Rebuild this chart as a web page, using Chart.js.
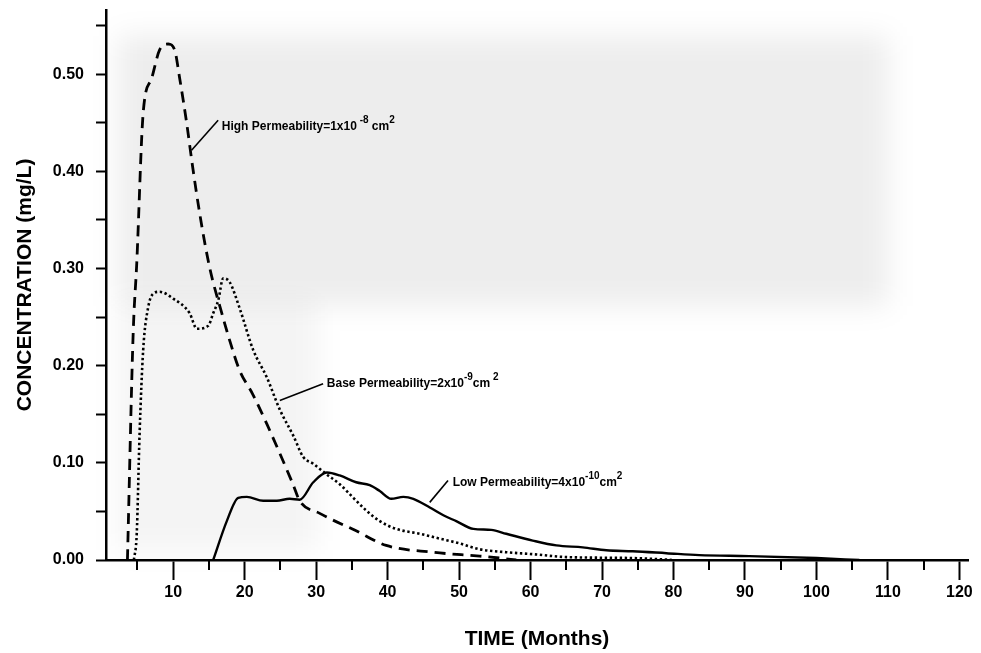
<!DOCTYPE html>
<html><head><meta charset="utf-8">
<script src="https://cdn.jsdelivr.net/npm/chart.js@4.4.1/dist/chart.umd.min.js"></script>
<style>html,body{margin:0;padding:0;background:#fff;overflow:hidden}#wrap{width:981px;height:653px;position:relative}</style>
</head><body><div id="wrap"><canvas id="c" width="981" height="653"></canvas></div>
<script>
// ---- data ----
const highMonths = [3.6, 4.4, 4.9, 5.8, 7.0, 8.1, 9.3, 10.2, 10.9, 11.9, 12.6, 13.7, 15.1, 16.8, 17.9, 19.3, 21.1, 23.1, 24.9, 26.7, 27.7, 30.5, 35.6, 39.8, 46.3, 52.9, 55.7, 58];
const highConc   = [0, 0.233, 0.305, 0.460, 0.496, 0.525, 0.531, 0.525, 0.496, 0.449, 0.411, 0.357, 0.301, 0.254, 0.226, 0.195, 0.171, 0.140, 0.110, 0.079, 0.061, 0.048, 0.030, 0.015, 0.008, 0.004, 0.002, 0];

const baseMonths = [4.5, 4.9, 5.3, 5.8, 6.5, 7.2, 8.1, 10.0, 12.3, 13.3, 14.9, 15.6, 16.3, 17.0, 17.9, 19.3, 21.2, 23.1, 24.9, 26.8, 28.2, 29.6, 31.5, 33.3, 35.2, 37.0, 38.9, 41.2, 44.5, 47.3, 50.1, 52.9, 56.6, 60.3, 65, 74.3, 80];
const baseConc   = [0, 0.027, 0.130, 0.216, 0.260, 0.274, 0.276, 0.269, 0.254, 0.238, 0.241, 0.254, 0.267, 0.290, 0.286, 0.259, 0.216, 0.188, 0.155, 0.128, 0.106, 0.099, 0.088, 0.078, 0.064, 0.051, 0.040, 0.032, 0.027, 0.022, 0.017, 0.011, 0.008, 0.006, 0.003, 0.002, 0];

const lowMonths = [15.6, 17.5, 19.1, 20.3, 22.6, 24.5, 26.3, 27.7, 29.6, 31.5, 33.3, 35.6, 37.5, 38.9, 40.5, 42.2, 43.6, 45.9, 47.8, 49.6, 52.0, 54.5, 56.6, 60.3, 63.6, 67.3, 70.6, 74.3, 79.0, 83.6, 90.6, 100, 106];
const lowConc   = [0, 0.040, 0.064, 0.065, 0.061, 0.061, 0.063, 0.062, 0.080, 0.090, 0.087, 0.080, 0.077, 0.071, 0.063, 0.065, 0.063, 0.054, 0.046, 0.040, 0.032, 0.031, 0.027, 0.020, 0.015, 0.013, 0.010, 0.009, 0.007, 0.005, 0.004, 0.002, 0];

const xTickValues = [5, 10, 15, 20, 25, 30, 35, 40, 45, 50, 55, 60, 65, 70, 75, 80, 85, 90, 95, 100, 105, 110, 115, 120];
const yTickValues = [0, 0.05, 0.10, 0.15, 0.20, 0.25, 0.30, 0.35, 0.40, 0.45, 0.50, 0.55];

const seriesLabels = ['High Permeability', 'Base Permeability', 'Low Permeability'];
const labelParts = [
  [['High Permeability=1x10', 0], [' -8', 1], [' cm', 0], ['2', 1]],
  [['Base Permeability=2x10', 0], ['-9', 1], ['cm', 0], [' 2', 1]],
  [['Low Permeability=4x10', 0], ['-10', 1], ['cm', 0], ['2', 1]]
];
// leader line: [fromMonth, fromConc, toMonth, toConc, textMonth, textConc]
const labelAnchors = [
  [12.57, 0.4216, 16.29, 0.4525, 16.8, 0.4464],
  [24.92, 0.1641, 30.97, 0.1813, 31.5, 0.1816],
  [45.89, 0.0593, 48.45, 0.0817, 49.1, 0.0796]
];

const toPts = (xs, ys) => xs.map((x, i) => ({x: x, y: ys[i]}));
const FONT = "'Liberation Sans', Arial, Helvetica, sans-serif";

const bgPlugin = {
  id: 'bg',
  beforeDatasetsDraw(chart) {
    const c = chart.ctx;
    c.save();
    c.filter = 'blur(14px)';
    c.fillStyle = 'rgba(0,0,0,0.07)';
    c.fillRect(118, 36, 770, 270);
    c.fillStyle = 'rgba(0,0,0,0.045)';
    c.fillRect(118, 300, 200, 250);
    c.restore();
  }
};

const extrasPlugin = {
  id: 'extras',
  afterDraw(chart) {
    const c = chart.ctx;
    const xs = chart.scales.x, ys = chart.scales.y;
    c.save();
    // minor x ticks
    c.strokeStyle = '#000';
    c.lineWidth = 2;
    xTickValues.forEach(v => {
      if (v % 10 !== 0) {
        const px = Math.round(xs.getPixelForValue(v));
        c.beginPath();
        c.moveTo(px, ys.bottom);
        c.lineTo(px, ys.bottom + 10);
        c.stroke();
      }
    });
    // annotations
    labelAnchors.forEach((a, i) => {
      c.lineWidth = 1.6;
      c.beginPath();
      c.moveTo(xs.getPixelForValue(a[0]), ys.getPixelForValue(a[1]));
      c.lineTo(xs.getPixelForValue(a[2]), ys.getPixelForValue(a[3]));
      c.stroke();
      let px = xs.getPixelForValue(a[4]);
      const py = ys.getPixelForValue(a[5]);
      c.fillStyle = '#000';
      c.textBaseline = 'middle';
      c.textAlign = 'left';
      labelParts[i].forEach(p => {
        if (p[1]) {
          c.font = 'bold 10px ' + FONT;
          c.fillText(p[0], px, py - 6);
        } else {
          c.font = 'bold 12px ' + FONT;
          c.fillText(p[0], px, py);
        }
        px += c.measureText(p[0]).width;
      });
    });
    c.restore();
  }
};

new Chart(document.getElementById('c'), {
  type: 'line',
  data: {
    datasets: [
      { label: seriesLabels[0], data: toPts(highMonths, highConc), borderColor: '#000', borderWidth: 2.8, borderDash: [11, 7], pointRadius: 0, fill: false, cubicInterpolationMode: 'monotone' },
      { label: seriesLabels[1], data: toPts(baseMonths, baseConc), borderColor: '#000', borderWidth: 2.6, borderDash: [2.4, 2.6], pointRadius: 0, fill: false, cubicInterpolationMode: 'monotone' },
      { label: seriesLabels[2], data: toPts(lowMonths, lowConc), borderColor: '#000', borderWidth: 2.4, pointRadius: 0, fill: false, cubicInterpolationMode: 'monotone' }
    ]
  },
  options: {
    responsive: false,
    animation: false,
    devicePixelRatio: 1,
    layout: { padding: { top: 10, right: 13, left: 0, bottom: 0 } },
    plugins: { legend: { display: false }, tooltip: { enabled: false } },
    scales: {
      x: {
        type: 'linear',
        min: 0.6, max: 121.2,
        afterBuildTicks: s => { s.ticks = xTickValues.map(v => ({value: v})); },
        afterFit: s => { s.height = 93; },
        border: { display: true, color: '#000', width: 2.5 },
        grid: { drawOnChartArea: false, drawTicks: true, tickLength: 20, tickWidth: 2,
                tickColor: ctx => (ctx.tick && ctx.tick.value % 10 === 0) ? '#000' : 'rgba(0,0,0,0)' },
        ticks: { color: '#000', font: { family: FONT, size: 16, weight: 'bold' }, padding: 3, maxRotation: 0, autoSkip: false,
                 callback: v => (v % 10 === 0 ? String(v) : '') },
        title: { display: true, text: 'TIME (Months)', color: '#000', font: { family: FONT, size: 21, weight: 'bold' }, padding: { top: 0, bottom: 1 } }
      },
      y: {
        type: 'linear',
        min: 0, max: 0.566,
        afterBuildTicks: s => { s.ticks = yTickValues.map(v => ({value: v})); },
        afterFit: s => { s.width = 106; s.paddingTop = 0; s.paddingBottom = 0; },
        border: { display: true, color: '#000', width: 2.5 },
        grid: { drawOnChartArea: false, drawTicks: true, tickLength: 10, tickWidth: 2, tickColor: '#000' },
        ticks: { color: '#000', font: { family: FONT, size: 16, weight: 'bold' }, padding: 12, autoSkip: false,
                 callback: v => (Math.abs(Math.round(v * 100) % 10) === 0 ? v.toFixed(2) : '') },
        title: { display: true, text: 'CONCENTRATION (mg/L)', color: '#000', font: { family: FONT, size: 21, weight: 'bold' }, padding: { top: 13, bottom: 0 } }
      }
    }
  },
  plugins: [bgPlugin, extrasPlugin]
});
</script>
</body></html>
